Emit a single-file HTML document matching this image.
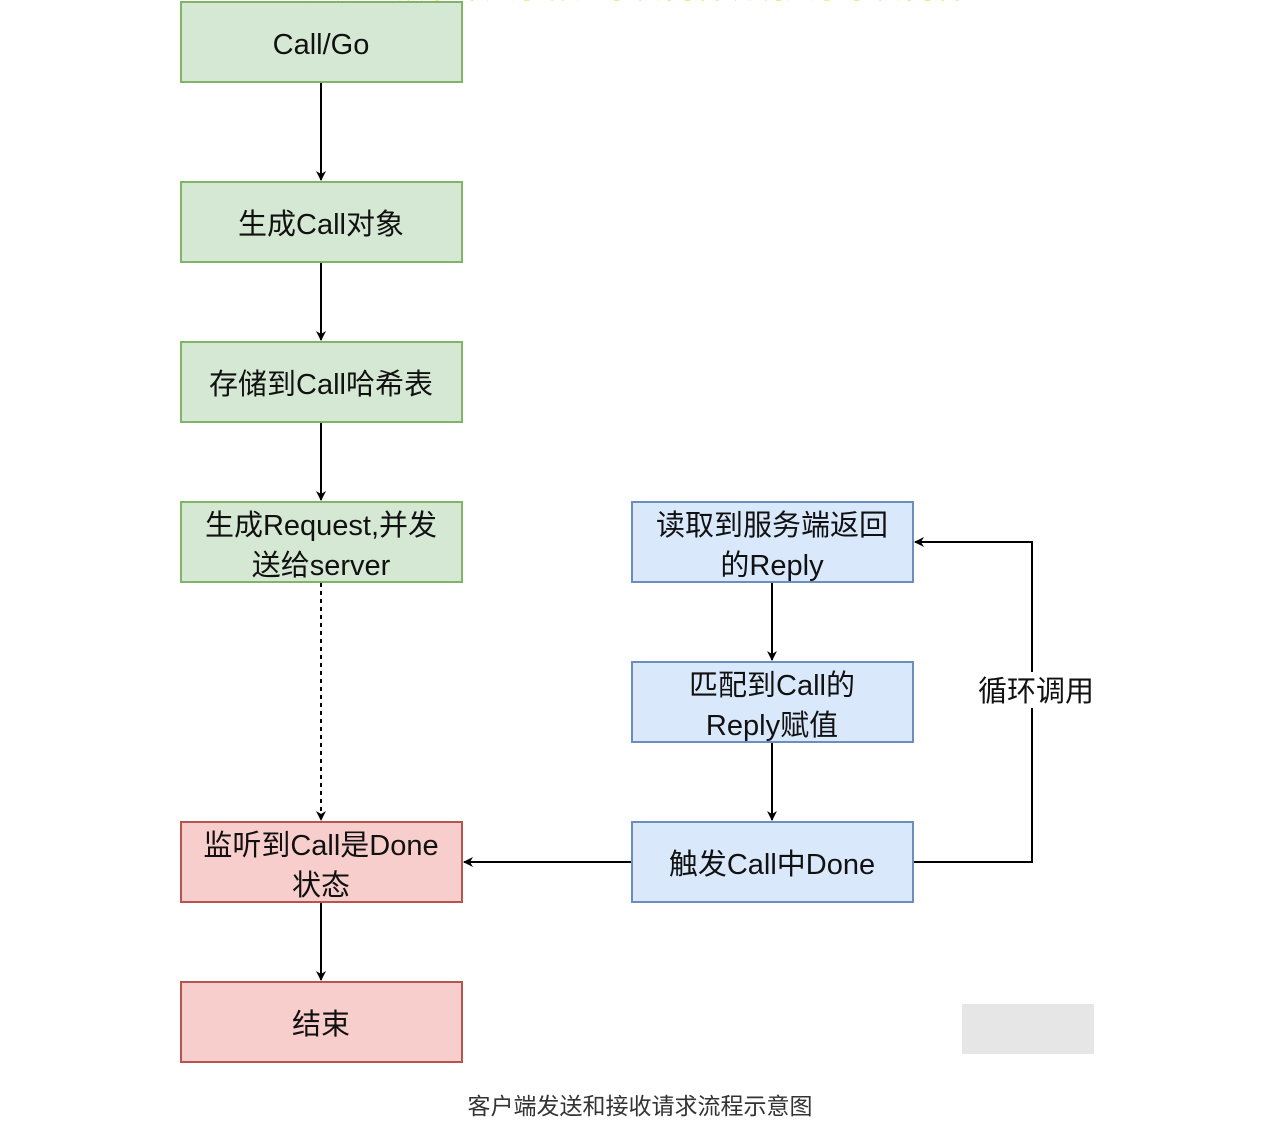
<!DOCTYPE html>
<html><head><meta charset="utf-8"><style>
body{margin:0;background:#fff;width:1287px;height:1143px;overflow:hidden}
svg text{font-family:"Liberation Sans","Noto Sans CJK SC",sans-serif}
</style></head><body>
<svg width="1287" height="1143" xmlns="http://www.w3.org/2000/svg">
<defs><marker id="a" markerWidth="10" markerHeight="10" refX="9" refY="5" orient="auto" markerUnits="userSpaceOnUse"><path d="M0,0 L10,5 L0,10 L3,5 z" fill="#000"/></marker></defs>
<text x="635" y="-2" font-size="30" fill="#f5c518" text-anchor="middle">这是一段水印文字标题示例内容说明文字示例内容</text>
<g stroke-width="2">
<rect x="181" y="2" width="281" height="80" fill="#d5e8d4" stroke="#82b366"/>
<rect x="181" y="182" width="281" height="80" fill="#d5e8d4" stroke="#82b366"/>
<rect x="181" y="342" width="281" height="80" fill="#d5e8d4" stroke="#82b366"/>
<rect x="181" y="502" width="281" height="80" fill="#d5e8d4" stroke="#82b366"/>
<rect x="181" y="822" width="281" height="80" fill="#f8cecc" stroke="#b85450"/>
<rect x="181" y="982" width="281" height="80" fill="#f8cecc" stroke="#b85450"/>
<rect x="632" y="502" width="281" height="80" fill="#dae8fc" stroke="#6c8ebf"/>
<rect x="632" y="662" width="281" height="80" fill="#dae8fc" stroke="#6c8ebf"/>
<rect x="632" y="822" width="281" height="80" fill="#dae8fc" stroke="#6c8ebf"/>
</g>
<g stroke="#000" stroke-width="2" fill="none">
<line x1="321" y1="83" x2="321" y2="180" marker-end="url(#a)"/>
<line x1="321" y1="263" x2="321" y2="340" marker-end="url(#a)"/>
<line x1="321" y1="423" x2="321" y2="500" marker-end="url(#a)"/>
<line x1="321" y1="583" x2="321" y2="820" stroke-dasharray="4 4" marker-end="url(#a)"/>
<line x1="321" y1="903" x2="321" y2="980" marker-end="url(#a)"/>
<line x1="772" y1="583" x2="772" y2="660" marker-end="url(#a)"/>
<line x1="772" y1="743" x2="772" y2="820" marker-end="url(#a)"/>
<line x1="631" y1="862" x2="464" y2="862" marker-end="url(#a)"/>
<polyline points="914,862 1032,862 1032,542 915,542" marker-end="url(#a)"/>
</g>
<rect x="970" y="672" width="130" height="36" fill="#fff"/>
<g font-size="29" fill="#111" text-anchor="middle">
<text x="321" y="54">Call/Go</text>
<text x="321" y="234">生成Call对象</text>
<text x="321" y="394">存储到Call哈希表</text>
<text x="321" y="535">生成Request,并发</text>
<text x="321" y="575">送给server</text>
<text x="321" y="855">监听到Call是Done</text>
<text x="321" y="895">状态</text>
<text x="321" y="1034">结束</text>
<text x="772" y="535">读取到服务端返回</text>
<text x="772" y="575">的Reply</text>
<text x="772" y="695">匹配到Call的</text>
<text x="772" y="735">Reply赋值</text>
<text x="772" y="874">触发Call中Done</text>
<text x="1036" y="701">循环调用</text>
</g>
<rect x="962" y="1004" width="132" height="50" fill="#e6e6e6"/>
<text x="640" y="1114" font-size="23" fill="#333" text-anchor="middle">客户端发送和接收请求流程示意图</text>
</svg>
</body></html>
